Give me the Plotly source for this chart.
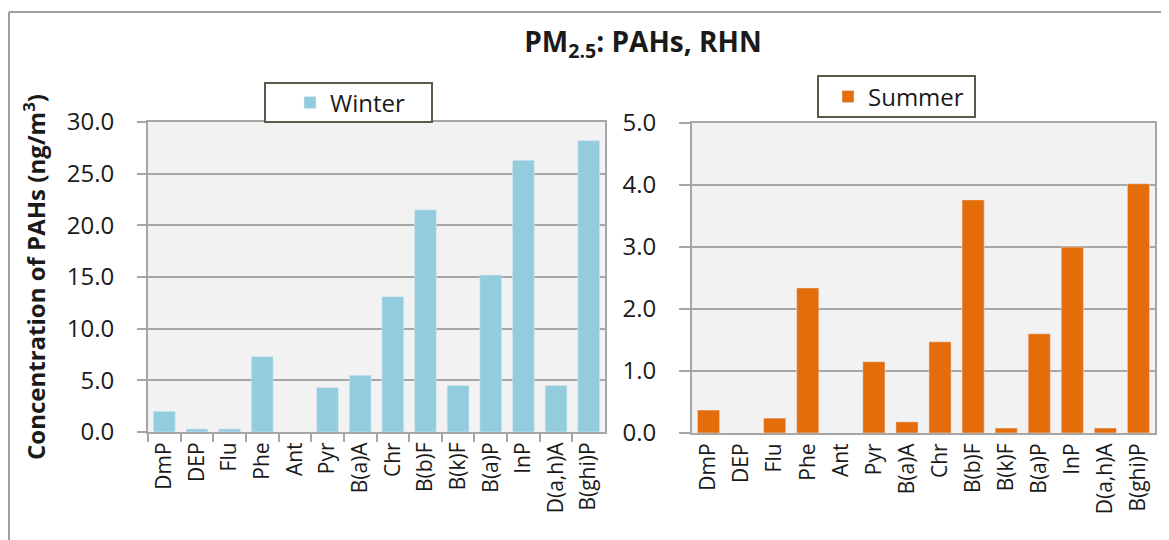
import plotly.graph_objects as go

compounds = ["DmP", "DEP", "Flu", "Phe", "Ant", "Pyr", "B(a)A", "Chr",
             "B(b)F", "B(k)F", "B(a)P", "InP", "D(a,h)A", "B(ghi)P"]
winter = [2.0, 0.3, 0.3, 7.3, 0.0, 4.3, 5.5, 13.1, 21.5, 4.5, 15.2, 26.3, 4.5, 28.2]
summer = [0.37, 0.0, 0.24, 2.34, 0.0, 1.15, 0.18, 1.47, 3.76, 0.08, 1.60, 3.0, 0.08, 4.02]

W, H = 1169, 540
PAGE = 8  # default body margin of the html page
FONT = "Open Sans"
GRID = "#a6a6a6"
TEXT = "#1a1a1a"


def px_x(x):
    return (x - PAGE) / W


def px_y(y):
    return (H - (y - PAGE)) / H


fig = go.Figure()
fig.add_bar(x=compounds, y=winter, name="Winter", marker_color="#93cddd",
            xaxis="x", yaxis="y", legend="legend", showlegend=True)
fig.add_bar(x=compounds, y=summer, name="Summer", marker_color="#e46c0a",
            xaxis="x2", yaxis="y2", legend="legend2", showlegend=True)

line_style = dict(showline=True, linecolor=GRID, linewidth=2, mirror=True)
y_ticks = dict(family=FONT, size=24, color=TEXT)
x_ticks = dict(family=FONT, size=21, color=TEXT)
legend_font = dict(family=FONT, size=24, color=TEXT)

fig.update_layout(
    width=W, height=H,
    margin=dict(l=0, r=0, t=0, b=0, autoexpand=False),
    showlegend=True,
    paper_bgcolor="white",
    plot_bgcolor="#f2f2f2",
    bargap=0.33,
    font=dict(family=FONT, color=TEXT),
    title=dict(text="<b>PM<sub>2.5</sub>: PAHs, RHN</b>", x=px_x(643), xanchor="center",
               y=px_y(42), yanchor="middle", font=dict(family=FONT, size=28, color=TEXT)),
    xaxis=dict(domain=[px_x(148), px_x(605)], anchor="y", ticks="outside",
               tickson="boundaries", ticklen=8, tickcolor=GRID, tickwidth=2,
               tickangle=-90, tickfont=x_ticks, **line_style),
    yaxis=dict(domain=[px_y(432), px_y(122)], anchor="x", range=[0, 30], dtick=5,
               tickformat=".1f", ticks="outside", ticklen=9, tickcolor=GRID, tickwidth=2,
               ticklabelstandoff=18, showgrid=True, gridcolor=GRID, gridwidth=2,
               zeroline=False, tickfont=y_ticks,
               title=dict(text="<b>Concentration of PAHs (ng/m<sup>3</sup>)</b>",
                          font=dict(family=FONT, size=24, color=TEXT), standoff=14),
               **line_style),
    xaxis2=dict(domain=[px_x(692), px_x(1155)], anchor="y2", ticks="",
                tickangle=-90, tickfont=x_ticks, **line_style),
    yaxis2=dict(domain=[px_y(433), px_y(123)], anchor="x2", range=[0, 5], dtick=1,
                tickformat=".1f", ticks="outside", ticklen=11, tickcolor=GRID, tickwidth=2,
                ticklabelstandoff=18, showgrid=True, gridcolor=GRID, gridwidth=2,
                zeroline=False, tickfont=y_ticks, **line_style),
    legend=dict(x=px_x(290), xanchor="left", y=px_y(103), yanchor="middle",
                bgcolor="rgba(0,0,0,0)", borderwidth=0, font=legend_font),
    legend2=dict(x=px_x(828), xanchor="left", y=px_y(97), yanchor="middle",
                 bgcolor="rgba(0,0,0,0)", borderwidth=0, font=legend_font),
    shapes=[
        # outer chart border: only its top and left edges are inside the crop
        dict(type="line", xref="paper", yref="paper", x0=px_x(9), x1=1,
             y0=px_y(12), y1=px_y(12), line=dict(color="#a0a0a0", width=2)),
        dict(type="line", xref="paper", yref="paper", x0=px_x(9), x1=px_x(9),
             y0=0, y1=px_y(12), line=dict(color="#a0a0a0", width=2)),
        # legend boxes
        dict(type="rect", xref="paper", yref="paper", x0=px_x(265), x1=px_x(432),
             y0=px_y(122), y1=px_y(83), fillcolor="white",
             line=dict(color="#5a5a48", width=2), layer="above"),
        dict(type="rect", xref="paper", yref="paper", x0=px_x(818), x1=px_x(975),
             y0=px_y(117), y1=px_y(76), fillcolor="white",
             line=dict(color="#5a5a48", width=2), layer="above"),
    ],
)

fig.write_html("out.html")
